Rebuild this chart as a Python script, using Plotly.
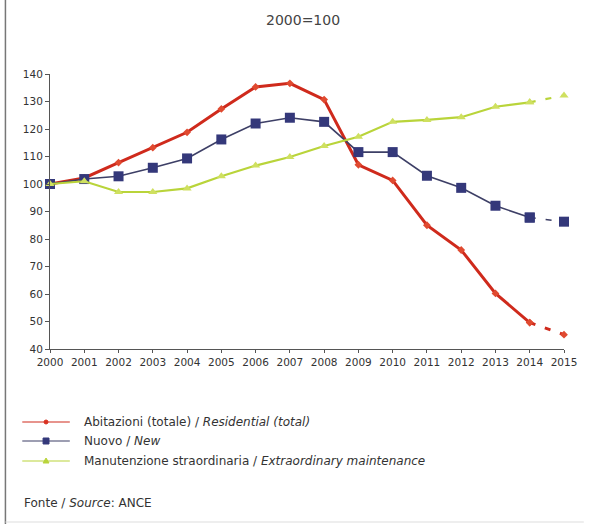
import plotly.graph_objects as go

years = list(range(2000, 2016))
abitazioni = [100, 102.2, 107.8, 113.2, 118.8, 127.3, 135.3, 136.6, 130.7, 107.0, 101.3, 85.0, 76.0, 60.2, 49.6, 45.2]
nuovo = [100, 101.8, 102.8, 105.9, 109.3, 116.2, 122.0, 124.1, 122.6, 111.6, 111.6, 103.0, 98.6, 92.1, 87.8, 86.3]
manutenzione = [100, 101.0, 97.1, 97.1, 98.4, 102.8, 106.7, 109.8, 113.8, 117.2, 122.6, 123.3, 124.3, 128.1, 129.7, 132.2]

y_ticks = list(range(40, 150, 10))

legend_labels = [
    "Abitazioni (totale) / <i>Residential (total)</i>",
    "Nuovo / <i>New</i>",
    "Manutenzione straordinaria / <i>Extraordinary maintenance</i>",
]
title_text = "2000=100"
source_text = "Fonte / <i>Source</i>: ANCE"

series = [
    (abitazioni, "#cf2a1c", 3, dict(symbol="diamond", size=6, color="#e04a30")),
    (nuovo, "#3d3f66", 1.6, dict(symbol="square", size=10, color="#34387a")),
    (manutenzione, "#b9d43a", 2.2, dict(symbol="triangle-up", size=8, color="#cfe060")),
]

fig = go.Figure()
for vals, col, w, mk in series:
    # solid part up to 2014
    fig.add_trace(go.Scatter(x=years[:-1], y=vals[:-1], mode="lines+markers",
                             line=dict(color=col, width=w), marker=mk,
                             showlegend=False))
    # dashed final segment 2014-2015
    fig.add_trace(go.Scatter(x=years[-2:], y=vals[-2:], mode="lines+markers",
                             line=dict(color=col, width=w, dash="6px,10px"), marker=mk,
                             showlegend=False))

L, R, T, B = 50, 20, 74, 175
W, H = 589, 524
pw, ph = W - L - R, H - T - B


def px(x):
    return (x - L) / pw


def py(y):
    return (H - B - y) / ph


shapes = []
annotations = []
# legend rows
leg_y = [422, 441, 461]
for (vals, col, w, mk), lab, yy in zip(series, legend_labels, leg_y):
    shapes.append(dict(type="line", xref="paper", yref="paper",
                       x0=px(22), x1=px(70), y0=py(yy), y1=py(yy),
                       line=dict(color=col, width=1.2)))
    annotations.append(dict(text=lab, xref="paper", yref="paper", x=px(82), y=py(yy),
                            xanchor="left", yanchor="middle", showarrow=False,
                            font=dict(family="DejaVu Sans", size=12, color="#333333")))
# legend markers
shapes.append(dict(type="circle", xref="paper", yref="paper",
                   x0=px(44), x1=px(48), y0=py(420), y1=py(424),
                   fillcolor="#d93020", line=dict(color="#d93020", width=1)))
shapes.append(dict(type="rect", xref="paper", yref="paper",
                   x0=px(43), x1=px(49), y0=py(438), y1=py(444),
                   fillcolor="#34387a", line=dict(color="#34387a", width=1)))
shapes.append(dict(type="path", xref="paper", yref="paper",
                   path=f"M {px(43)} {py(463)} L {px(49)} {py(463)} L {px(46)} {py(458)} Z",
                   fillcolor="#b9d43a", line=dict(color="#b9d43a", width=1)))
# left border of the panel
shapes.append(dict(type="line", xref="paper", yref="paper",
                   x0=px(5), x1=px(5), y0=py(0), y1=py(524),
                   line=dict(color="#777777", width=1.5)))
shapes.append(dict(type="line", xref="paper", yref="paper",
                   x0=px(5), x1=px(589), y0=py(522), y1=py(522),
                   line=dict(color="#dddddd", width=1)))

annotations.append(dict(text=title_text, xref="paper", yref="paper", x=px(305), y=py(20),
                        xanchor="center", yanchor="middle", showarrow=False,
                        font=dict(family="DejaVu Sans", size=14, color="#444444")))
annotations.append(dict(text=source_text, xref="paper", yref="paper", x=px(22), y=py(503),
                        xanchor="left", yanchor="middle", showarrow=False,
                        font=dict(family="DejaVu Sans", size=12, color="#333333")))

fig.update_layout(
    width=W, height=H,
    margin=dict(l=L, r=R, t=T, b=B),
    paper_bgcolor="white", plot_bgcolor="white",
    shapes=shapes, annotations=annotations,
    xaxis=dict(range=[2000, 2015], tickvals=years, ticktext=[str(y) for y in years],
               showgrid=False, zeroline=False, showline=True, linecolor="#555555",
               linewidth=1, ticks="outside", ticklen=3, tickcolor="#555555",
               tickfont=dict(family="DejaVu Sans", size=10.5, color="#333333")),
    yaxis=dict(range=[40, 140], tickvals=y_ticks, showgrid=False, zeroline=False,
               showline=True, linecolor="#555555", linewidth=1, ticks="outside",
               ticklen=4, tickcolor="#555555",
               tickfont=dict(family="DejaVu Sans", size=10.5, color="#333333")),
)

fig.update_xaxes(constrain="domain")
fig.update_traces(cliponaxis=False)
fig.write_html("out.html")
